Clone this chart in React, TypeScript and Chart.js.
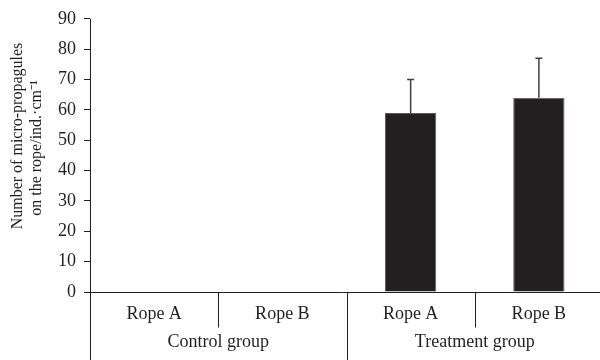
import React, { useEffect, useRef } from "react";
import { Chart, registerables } from "chart.js";

Chart.register(...registerables);

// Category labels (inner level) and group labels (outer level)
const ropeLabels = ["Rope A", "Rope B", "Rope A", "Rope B"];
const groupLabels = ["Control group", "Treatment group"];
const groupSize = 2;

// Mean number of micro-propagules and the upper error (SD)
const meanValues = [0, 0, 59, 64];
const errorValues = [0, 0, 11, 13];

const yTitleLines = ["Number of micro-propagules", "on the rope/ind.\u00b7cm\u207b\u00b9"];

const FONT = '"Liberation Serif", "Times New Roman", serif';
const INK = "#231f20";

const axesAndLabels = {
  id: "axesAndLabels",
  afterDatasetsDraw(chart: any) {
    const { ctx, chartArea, scales } = chart;
    const x = scales.x;
    const y = scales.y;
    const h = chart.height;
    const zeroY = Math.round(y.getPixelForValue(0)) + 0.5;
    const left = Math.round(chartArea.left) + 0.5;

    ctx.save();

    // error bars (upper only)
    ctx.strokeStyle = "#3f3f3f";
    ctx.lineWidth = 1.5;
    meanValues.forEach((v, i) => {
      const e = errorValues[i];
      if (!e) return;
      const cx = x.getPixelForValue(i);
      const yTop = y.getPixelForValue(v + e);
      const yBar = y.getPixelForValue(v);
      ctx.beginPath();
      ctx.moveTo(cx, yBar);
      ctx.lineTo(cx, yTop);
      ctx.moveTo(cx - 3.5, yTop);
      ctx.lineTo(cx + 3.5, yTop);
      ctx.stroke();
    });

    // axis lines
    ctx.strokeStyle = INK;
    ctx.lineWidth = 1;
    ctx.beginPath();
    ctx.moveTo(left, chartArea.top);
    ctx.lineTo(left, h);
    ctx.moveTo(left - 6, zeroY);
    ctx.lineTo(chartArea.right, zeroY);
    ctx.stroke();

    // dividers between categories
    const n = ropeLabels.length;
    for (let i = 1; i < n; i++) {
      const bx = Math.round((x.getPixelForValue(i - 1) + x.getPixelForValue(i)) / 2) + 0.5;
      const isGroup = i % groupSize === 0;
      ctx.beginPath();
      ctx.moveTo(bx, zeroY);
      ctx.lineTo(bx, isGroup ? h : zeroY + 35);
      ctx.stroke();
    }

    // category labels
    ctx.fillStyle = INK;
    ctx.font = `18px ${FONT}`;
    ctx.textAlign = "center";
    ctx.textBaseline = "middle";
    ropeLabels.forEach((lab, i) => {
      ctx.fillText(lab, x.getPixelForValue(i), zeroY + 22);
    });
    groupLabels.forEach((lab, g) => {
      const a = x.getPixelForValue(g * groupSize);
      const b = x.getPixelForValue(g * groupSize + groupSize - 1);
      ctx.fillText(lab, (a + b) / 2, zeroY + 50);
    });

    // y-axis title (two rotated lines)
    ctx.font = `16px ${FONT}`;
    const centers = [[18, 136], [37, 148]];
    yTitleLines.forEach((line, k) => {
      ctx.save();
      ctx.translate(centers[k][0], centers[k][1]);
      ctx.rotate(-Math.PI / 2);
      ctx.fillText(line, 0, 0);
      ctx.restore();
    });

    ctx.restore();
  },
};

export default function App() {
  const canvasRef = useRef<HTMLCanvasElement | null>(null);

  useEffect(() => {
    if (!canvasRef.current) return;
    const chart = new Chart(canvasRef.current, {
      type: "bar",
      data: {
        labels: ropeLabels,
        datasets: [
          {
            data: meanValues,
            backgroundColor: INK,
            borderColor: "#5e5e5e",
            borderWidth: 1,
            barPercentage: 0.4,
            categoryPercentage: 1,
          },
        ],
      },
      options: {
        animation: false,
        responsive: false,
        maintainAspectRatio: false,
        devicePixelRatio: 1,
        layout: { padding: { top: 17, right: 0, left: 0, bottom: 0 } },
        plugins: { legend: { display: false }, tooltip: { enabled: false } },
        scales: {
          x: {
            ticks: { display: false },
            grid: { display: false },
            border: { display: false },
            afterFit: (s: any) => {
              s.height = 68;
            },
          },
          y: {
            min: 0,
            max: 90,
            ticks: {
              stepSize: 10,
              color: INK,
              font: { family: FONT, size: 18 },
              padding: 8,
            },
            grid: {
              display: true,
              drawOnChartArea: false,
              drawTicks: true,
              tickLength: 6,
              color: INK,
            },
            border: { display: false },
            afterFit: (s: any) => {
              s.width = 90;
            },
          },
        },
      },
      plugins: [axesAndLabels],
    });
    return () => chart.destroy();
  }, []);

  return (
    <div
      style={{
        position: "fixed",
        left: 0,
        top: 0,
        width: 600,
        height: 360,
        overflow: "hidden",
        background: "#fff",
      }}
    >
      <canvas ref={canvasRef} width={603} height={360} style={{ width: 603, height: 360 }} />
    </div>
  );
}
